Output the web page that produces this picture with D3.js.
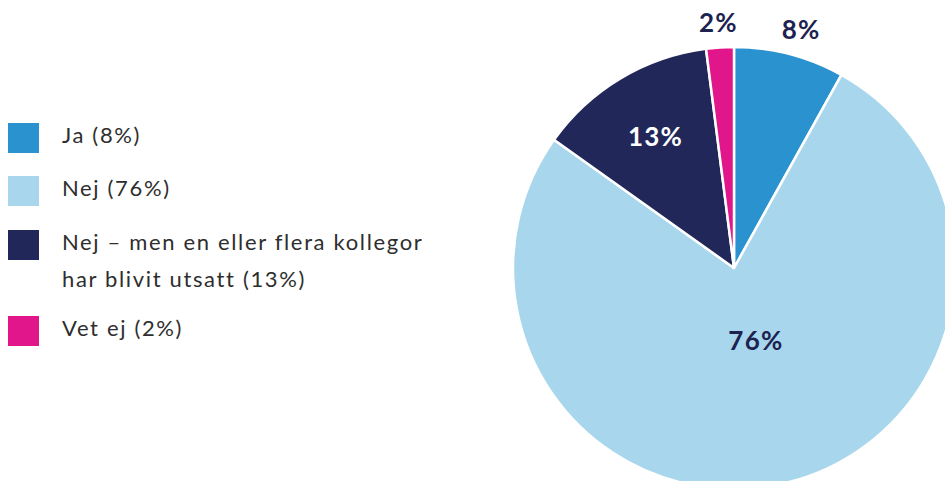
<html>
<meta charset="utf-8">
<script src="https://cdn.jsdelivr.net/npm/d3@7"></script>
<style>
  body { margin: 0; background: white; }
  svg { display: block; }
</style>
<body>
<div id="chart"></div>
<script>

// answers, in pie order (clockwise from top)
var categories = ["Ja", "Nej", "Nej – men en eller flera kollegor har blivit utsatt", "Vet ej"]
var values = [8, 76, 13, 2]
var sliceLabels = ["8%", "76%", "13%", "2%"]
var legendLines = [["Ja (8%)"], ["Nej (76%)"], ["Nej – men en eller flera kollegor", "har blivit utsatt (13%)"], ["Vet ej (2%)"]]
var colours = ["#2a92cf", "#a8d7ed", "#22275a", "#e0168a"]

var width = 945, height = 481
var cx = 734, cy = 268, radius = 221
var labelCol = "#1d2350"

var svg = d3.select("#chart").append("svg")
  .attr("width", width)
  .attr("height", height)

var pie = d3.pie().sort(null).value(function(d){ return d })
var arcs = pie(values)
var arc = d3.arc().innerRadius(0).outerRadius(radius)

var g = svg.append("g").attr("transform", "translate(" + cx + "," + cy + ")")

g.selectAll("path.slice")
  .data(arcs)
  .enter().append("path")
  .attr("class", "slice")
  .attr("d", arc)
  .attr("fill", function(d, i){ return colours[i] })
  .attr("stroke", "white")
  .attr("stroke-width", 2.5)
  .attr("stroke-linejoin", "round")

// how far from the centre each label sits, and a small angle nudge
var labelRadius = [248, 76, 153, 246]
var labelNudge = [0.02, -0.07, 0, 0]
var labelColours = [labelCol, labelCol, "white", labelCol]

g.selectAll("text.val")
  .data(arcs)
  .enter().append("text")
  .attr("class", "val")
  .attr("x", function(d, i){
    var a = (d.startAngle + d.endAngle) / 2 + labelNudge[i]
    return Math.sin(a) * labelRadius[i]
  })
  .attr("y", function(d, i){
    var a = (d.startAngle + d.endAngle) / 2 + labelNudge[i]
    return -Math.cos(a) * labelRadius[i]
  })
  .attr("dy", "0.36em")
  .attr("text-anchor", "middle")
  .attr("fill", function(d, i){ return labelColours[i] })
  .style("font-family", "Lato, 'Open Sans', sans-serif")
  .style("font-weight", 700)
  .style("font-size", "26px")
  .style("letter-spacing", "1.2px")
  .text(function(d, i){ return sliceLabels[i] })

// legend
var legendY = [123, 176, 230, 316]
var legend = svg.selectAll("g.leg")
  .data(categories)
  .enter().append("g")
  .attr("class", "leg")
  .attr("transform", function(d, i){ return "translate(8," + legendY[i] + ")" })

legend.append("rect")
  .attr("width", 31)
  .attr("height", 30)
  .attr("fill", function(d, i){ return colours[i] })

legend.each(function(d, i){
  var t = d3.select(this).append("text")
    .attr("x", 54)
    .attr("y", 20)
    .attr("fill", "#2e2e2e")
    .style("font-family", "Lato, 'Open Sans', sans-serif")
    .style("font-weight", 400)
    .style("font-size", "22px")
    .style("letter-spacing", "1.65px")
  legendLines[i].forEach(function(line, j){
    t.append("tspan").attr("x", 54).attr("dy", j == 0 ? 0 : 37).text(line)
  })
})

</script>
</body>
</html>
